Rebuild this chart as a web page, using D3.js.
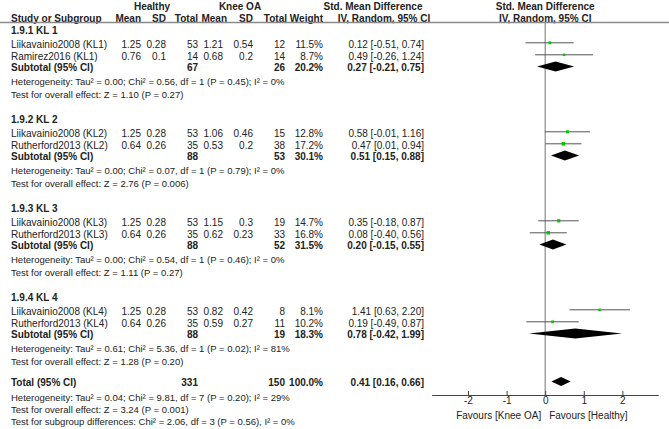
<!DOCTYPE html>
<html><head><meta charset="utf-8">
<script src="https://cdn.jsdelivr.net/npm/d3@7"></script>
<style>
body{margin:0;background:#fff;}
text{font-family:"Liberation Sans",Arial,sans-serif;font-size:10px;fill:#222;}
.b{font-weight:bold;}
.n{font-size:9.5px;}
</style></head><body>
<svg id="c" width="669" height="429"></svg>
<script>
// ---- data ----
const groupLabels = ["1.9.1 KL 1","1.9.2 KL 2","1.9.3 KL 3","1.9.4 KL 4"];
const studyGroup = [0,0,1,1,2,2,3,3];
const studyNames = ["Liikavainio2008 (KL1)","Ramirez2016 (KL1)","Liikavainio2008 (KL2)","Rutherford2013 (KL2)","Liikavainio2008 (KL3)","Rutherford2013 (KL3)","Liikavainio2008 (KL4)","Rutherford2013 (KL4)"];
const healthyMean = ["1.25","0.76","1.25","0.64","1.25","0.64","1.25","0.64"];
const healthySD   = ["0.28","0.1","0.28","0.26","0.28","0.26","0.28","0.26"];
const healthyN    = [53,14,53,35,53,35,53,35];
const kneeMean    = ["1.21","0.68","1.06","0.53","1.15","0.62","0.82","0.59"];
const kneeSD      = ["0.54","0.2","0.46","0.2","0.3","0.23","0.42","0.27"];
const kneeN       = [12,14,15,38,19,33,8,11];
const weights     = [11.5,8.7,12.8,17.2,14.7,16.8,8.1,10.2];
const smd         = [0.12,0.49,0.58,0.47,0.35,0.08,1.41,0.19];
const ciLow       = [-0.51,-0.26,-0.01,0.01,-0.18,-0.40,0.63,-0.49];
const ciHigh      = [0.74,1.24,1.16,0.94,0.87,0.56,2.20,0.87];

const subHealthyN = [67,88,88,88];
const subKneeN    = [26,53,52,19];
const subWeight   = [20.2,30.1,31.5,18.3];
const subSmd      = [0.27,0.51,0.20,0.78];
const subLow      = [-0.21,0.15,-0.15,-0.42];
const subHigh     = [0.75,0.88,0.55,1.99];
const subHet = ["Heterogeneity: Tau² = 0.00; Chi² = 0.56, df = 1 (P = 0.45); I² = 0%",
                "Heterogeneity: Tau² = 0.00; Chi² = 0.07, df = 1 (P = 0.79); I² = 0%",
                "Heterogeneity: Tau² = 0.00; Chi² = 0.54, df = 1 (P = 0.46); I² = 0%",
                "Heterogeneity: Tau² = 0.61; Chi² = 5.36, df = 1 (P = 0.02); I² = 81%"];
const subTest = ["Test for overall effect: Z = 1.10 (P = 0.27)",
                 "Test for overall effect: Z = 2.76 (P = 0.006)",
                 "Test for overall effect: Z = 1.11 (P = 0.27)",
                 "Test for overall effect: Z = 1.28 (P = 0.20)"];

const totalHealthyN = 331, totalKneeN = 150, totalWeight = 100.0;
const totalSmd = 0.41, totalLow = 0.16, totalHigh = 0.66;
const totalNotes = ["Heterogeneity: Tau² = 0.04; Chi² = 9.81, df = 7 (P = 0.20); I² = 29%",
                    "Test for overall effect: Z = 3.24 (P = 0.001)",
                    "Test for subgroup differences: Chi² = 2.06, df = 3 (P = 0.56), I² = 0%"];
const tickValues = [-2,-1,0,1,2];
const favLeft = "Favours [Knee OA]", favRight = "Favours [Healthy]";

// ---- layout ----
const svg = d3.select("#c");
const x = d3.scaleLinear().domain([-2.94, 2.93]).range([431.7, 658.3]);
const groupTop = [30,119,208,297];
const f2 = d => d.toFixed(2);
const ciText = (e,l,h) => `${f2(e)} [${f2(l)}, ${f2(h)}]`;
const cols = {name:11, hm:141, hsd:166, hn:198, km:223, ksd:253, kn:285, w:323, eff:424};
const base = 3.5;

function txt(str, xx, yy, anchor, cls){
  return svg.append("text").attr("x",xx).attr("y",yy+base).attr("text-anchor",anchor||"start").attr("class",cls||null).text(str);
}

// header
txt("Healthy",152,6,"middle","b");
txt("Knee OA",240,6,"middle","b");
txt("Std. Mean Difference",373,6,"middle","b");
txt("Std. Mean Difference",x(0),6,"middle","b");
txt("Study or Subgroup",cols.name,18,"start","b");
txt("Mean",141,18,"end","b");
txt("SD",166,18,"end","b");
txt("Total",198,18,"end","b");
txt("Mean",227,18,"end","b");
txt("SD",253,18,"end","b");
txt("Total",287,18,"end","b");
txt("Weight",323,18,"end","b");
txt("IV, Random, 95% CI",384,18,"middle","b");
txt("IV, Random, 95% CI",x(0),18,"middle","b");
svg.append("line").attr("x1",0).attr("x2",669).attr("y1",22.5).attr("y2",22.5).attr("stroke","#8a8a8a").attr("stroke-width",1.3);

// zero line
const axisY = 395;
svg.append("line").attr("x1",x(0)).attr("x2",x(0)).attr("y1",23).attr("y2",axisY).attr("stroke","#8a8a8a").attr("stroke-width",1.2);

// groups
groupLabels.forEach((g,gi)=>{
  const y0 = groupTop[gi];
  txt(g,cols.name,y0,"start","b");
  const idx = studyGroup.map((s,i)=>s===gi?i:-1).filter(i=>i>=0);
  idx.forEach((i,k)=>{
    const y = y0 + 14 + k*12;
    txt(studyNames[i],cols.name,y);
    txt(healthyMean[i],cols.hm,y,"end");
    txt(healthySD[i],cols.hsd,y,"end");
    txt(healthyN[i],cols.hn,y,"end");
    txt(kneeMean[i],cols.km,y,"end");
    txt(kneeSD[i],cols.ksd,y,"end");
    txt(kneeN[i],cols.kn,y,"end");
    txt(weights[i].toFixed(1)+"%",cols.w,y,"end");
    txt(ciText(smd[i],ciLow[i],ciHigh[i]),cols.eff,y,"end");
    const my = y - 1.2;
    svg.append("line").attr("x1",x(ciLow[i])).attr("x2",x(ciHigh[i])).attr("y1",my).attr("y2",my).attr("stroke","#555").attr("stroke-width",1);
    const s = Math.sqrt(weights[i])*0.85;
    svg.append("rect").attr("x",x(smd[i])-s/2).attr("y",my-s/2).attr("width",s).attr("height",s).attr("fill","#00c800");
  });
  const ys = y0 + 37;
  txt("Subtotal (95% CI)",cols.name,ys,"start","b");
  txt(subHealthyN[gi],cols.hn,ys,"end","b");
  txt(subKneeN[gi],cols.kn,ys,"end","b");
  txt(subWeight[gi].toFixed(1)+"%",cols.w,ys,"end","b");
  txt(ciText(subSmd[gi],subLow[gi],subHigh[gi]),cols.eff,ys,"end","b");
  const dy = ys - 0.5, h = 5;
  svg.append("path").attr("d",`M${x(subLow[gi])},${dy}L${x(subSmd[gi])},${dy-h}L${x(subHigh[gi])},${dy}L${x(subSmd[gi])},${dy+h}Z`).attr("fill","#000");
  txt(subHet[gi],cols.name,y0+51,"start","n");
  txt(subTest[gi],cols.name,y0+64,"start","n");
});

// total
const yt = 382;
txt("Total (95% CI)",cols.name,yt,"start","b");
txt(totalHealthyN,cols.hn,yt,"end","b");
txt(totalKneeN,cols.kn,yt,"end","b");
txt(totalWeight.toFixed(1)+"%",cols.w,yt,"end","b");
txt(ciText(totalSmd,totalLow,totalHigh),cols.eff,yt,"end","b");
svg.append("path").attr("d",`M${x(totalLow)},${yt-0.5}L${x(totalSmd)},${yt-5}L${x(totalHigh)},${yt-0.5}L${x(totalSmd)},${yt+4}Z`).attr("fill","#000");
txt(totalNotes[0],cols.name,397,"start","n");
txt(totalNotes[1],cols.name,409,"start","n");
txt(totalNotes[2],cols.name,421,"start","n");

// axis
const ax = svg.append("g").attr("transform",`translate(0,${axisY})`)
  .call(d3.axisBottom(x).tickValues(tickValues).tickFormat(d=>String(d)).tickSizeInner(-4).tickSizeOuter(0).tickPadding(2));
ax.select(".domain").attr("stroke","#444");
ax.selectAll(".tick line").attr("stroke","#444").attr("y2",-4).attr("y1",1);
ax.selectAll(".tick text").attr("font-size",10).attr("font-family","Liberation Sans, Arial, sans-serif").attr("fill","#222");
txt(favLeft,x(0)-4,415,"end");
txt(favRight,x(0)+4,415,"start");
</script></body></html>
